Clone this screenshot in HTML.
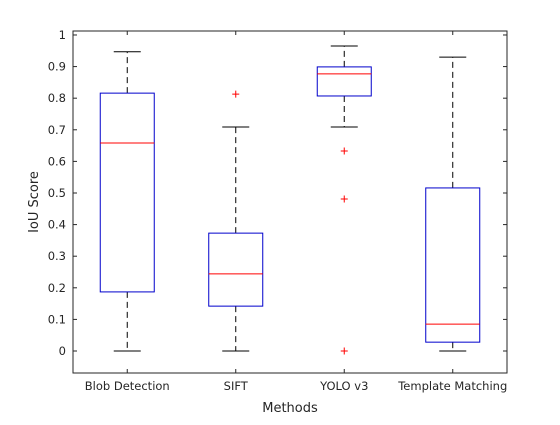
<!DOCTYPE html>
<html><head><meta charset="utf-8"><style>
body{margin:0;background:#fff;width:560px;height:420px;overflow:hidden}
svg{font-family:"DejaVu Sans","Liberation Sans",sans-serif}
</style></head><body>
<svg id="chart" width="560" height="420" xmlns="http://www.w3.org/2000/svg"></svg>
<script>
const categories=["Blob Detection","SIFT","YOLO v3","Template Matching"];
const lowWhisker=[0,0,0.709,0];
const q1=[0.187,0.142,0.807,0.028];
const median=[0.658,0.244,0.877,0.085];
const q3=[0.816,0.373,0.899,0.516];
const highWhisker=[0.947,0.709,0.965,0.930];
const outliers=[[],[0.813],[0.633,0.481,0]];
const yTicks=[0,0.1,0.2,0.3,0.4,0.5,0.6,0.7,0.8,0.9,1];
const yTickLabels=["0","0.1","0.2","0.3","0.4","0.5","0.6","0.7","0.8","0.9","1"];

const svg=document.getElementById('chart');
const NS="http://www.w3.org/2000/svg";
const L=73,R=507,T=31,B=373,yMin=-0.0696,yMax=1.0126;
const y=v=>B-(v-yMin)/(yMax-yMin)*(B-T);
const x=i=>L+(R-L)*(i+0.5)/categories.length;
function el(tag,attrs,parent){const e=document.createElementNS(NS,tag);for(const k in attrs)e.setAttribute(k,attrs[k]);(parent||svg).appendChild(e);return e;}

const frame=el('rect',{x:L,y:T,width:R-L,height:B-T,fill:'#fff',stroke:'#262626','stroke-width':1});



yTicks.forEach((v,i)=>{
  const t=el('line',{x1:L,x2:L+4,y1:y(v),y2:y(v),stroke:'#262626','stroke-width':1});
  
  
  const t2=el('line',{x1:R,x2:R-4,y1:y(v),y2:y(v),stroke:'#262626','stroke-width':1});
  
  
  const lb=el('text',{x:L-7,y:y(v)+4,'text-anchor':'end','font-size':11.5,fill:'#262626'});
  lb.textContent=yTickLabels[i];
  
  
});

categories.forEach((c,i)=>{
  const cx=x(i),hw=27;
  const tk=el('line',{x1:cx,x2:cx,y1:B,y2:B-4,stroke:'#262626','stroke-width':1});
  
  
  const tk2=el('line',{x1:cx,x2:cx,y1:T,y2:T+4,stroke:'#262626','stroke-width':1});
  
  
  const lb=el('text',{x:cx,y:B+17,'text-anchor':'middle','font-size':11.5,fill:'#262626'});
  lb.textContent=c;
  
  
  const g=el('g',{});
  
  
  el('line',{x1:cx,x2:cx,y1:y(q3[i]),y2:y(highWhisker[i]),stroke:'#000','stroke-dasharray':'6,4'},g);
  el('line',{x1:cx,x2:cx,y1:y(q1[i]),y2:y(lowWhisker[i]),stroke:'#000','stroke-dasharray':'6,4'},g);
  el('line',{x1:cx-13.5,x2:cx+13.5,y1:y(highWhisker[i]),y2:y(highWhisker[i]),stroke:'#000'},g);
  el('line',{x1:cx-13.5,x2:cx+13.5,y1:y(lowWhisker[i]),y2:y(lowWhisker[i]),stroke:'#000'},g);
  el('rect',{x:cx-hw,y:y(q3[i]),width:2*hw,height:y(q1[i])-y(q3[i]),fill:'none',stroke:'#0000cc'},g);
  el('line',{x1:cx-hw,x2:cx+hw,y1:y(median[i]),y2:y(median[i]),stroke:'#ff0000'},g);
  (outliers[i]||[]).forEach(o=>{
    const oy=y(o);
    const p=el('path',{d:`M${cx-3.5},${oy}H${cx+3.5}M${cx},${oy-3.5}V${oy+3.5}`,stroke:'#ff0000','stroke-width':1},g);
    
    
  });
});

const xt=el('text',{x:(L+R)/2,y:412,'text-anchor':'middle','font-size':13,fill:'#262626'});
xt.textContent='Methods';


const yt=el('text',{x:0,y:0,'text-anchor':'middle','font-size':13,fill:'#262626',transform:`translate(38,${(T+B)/2}) rotate(-90)`});
yt.textContent='IoU Score';


</script>
</body></html>
